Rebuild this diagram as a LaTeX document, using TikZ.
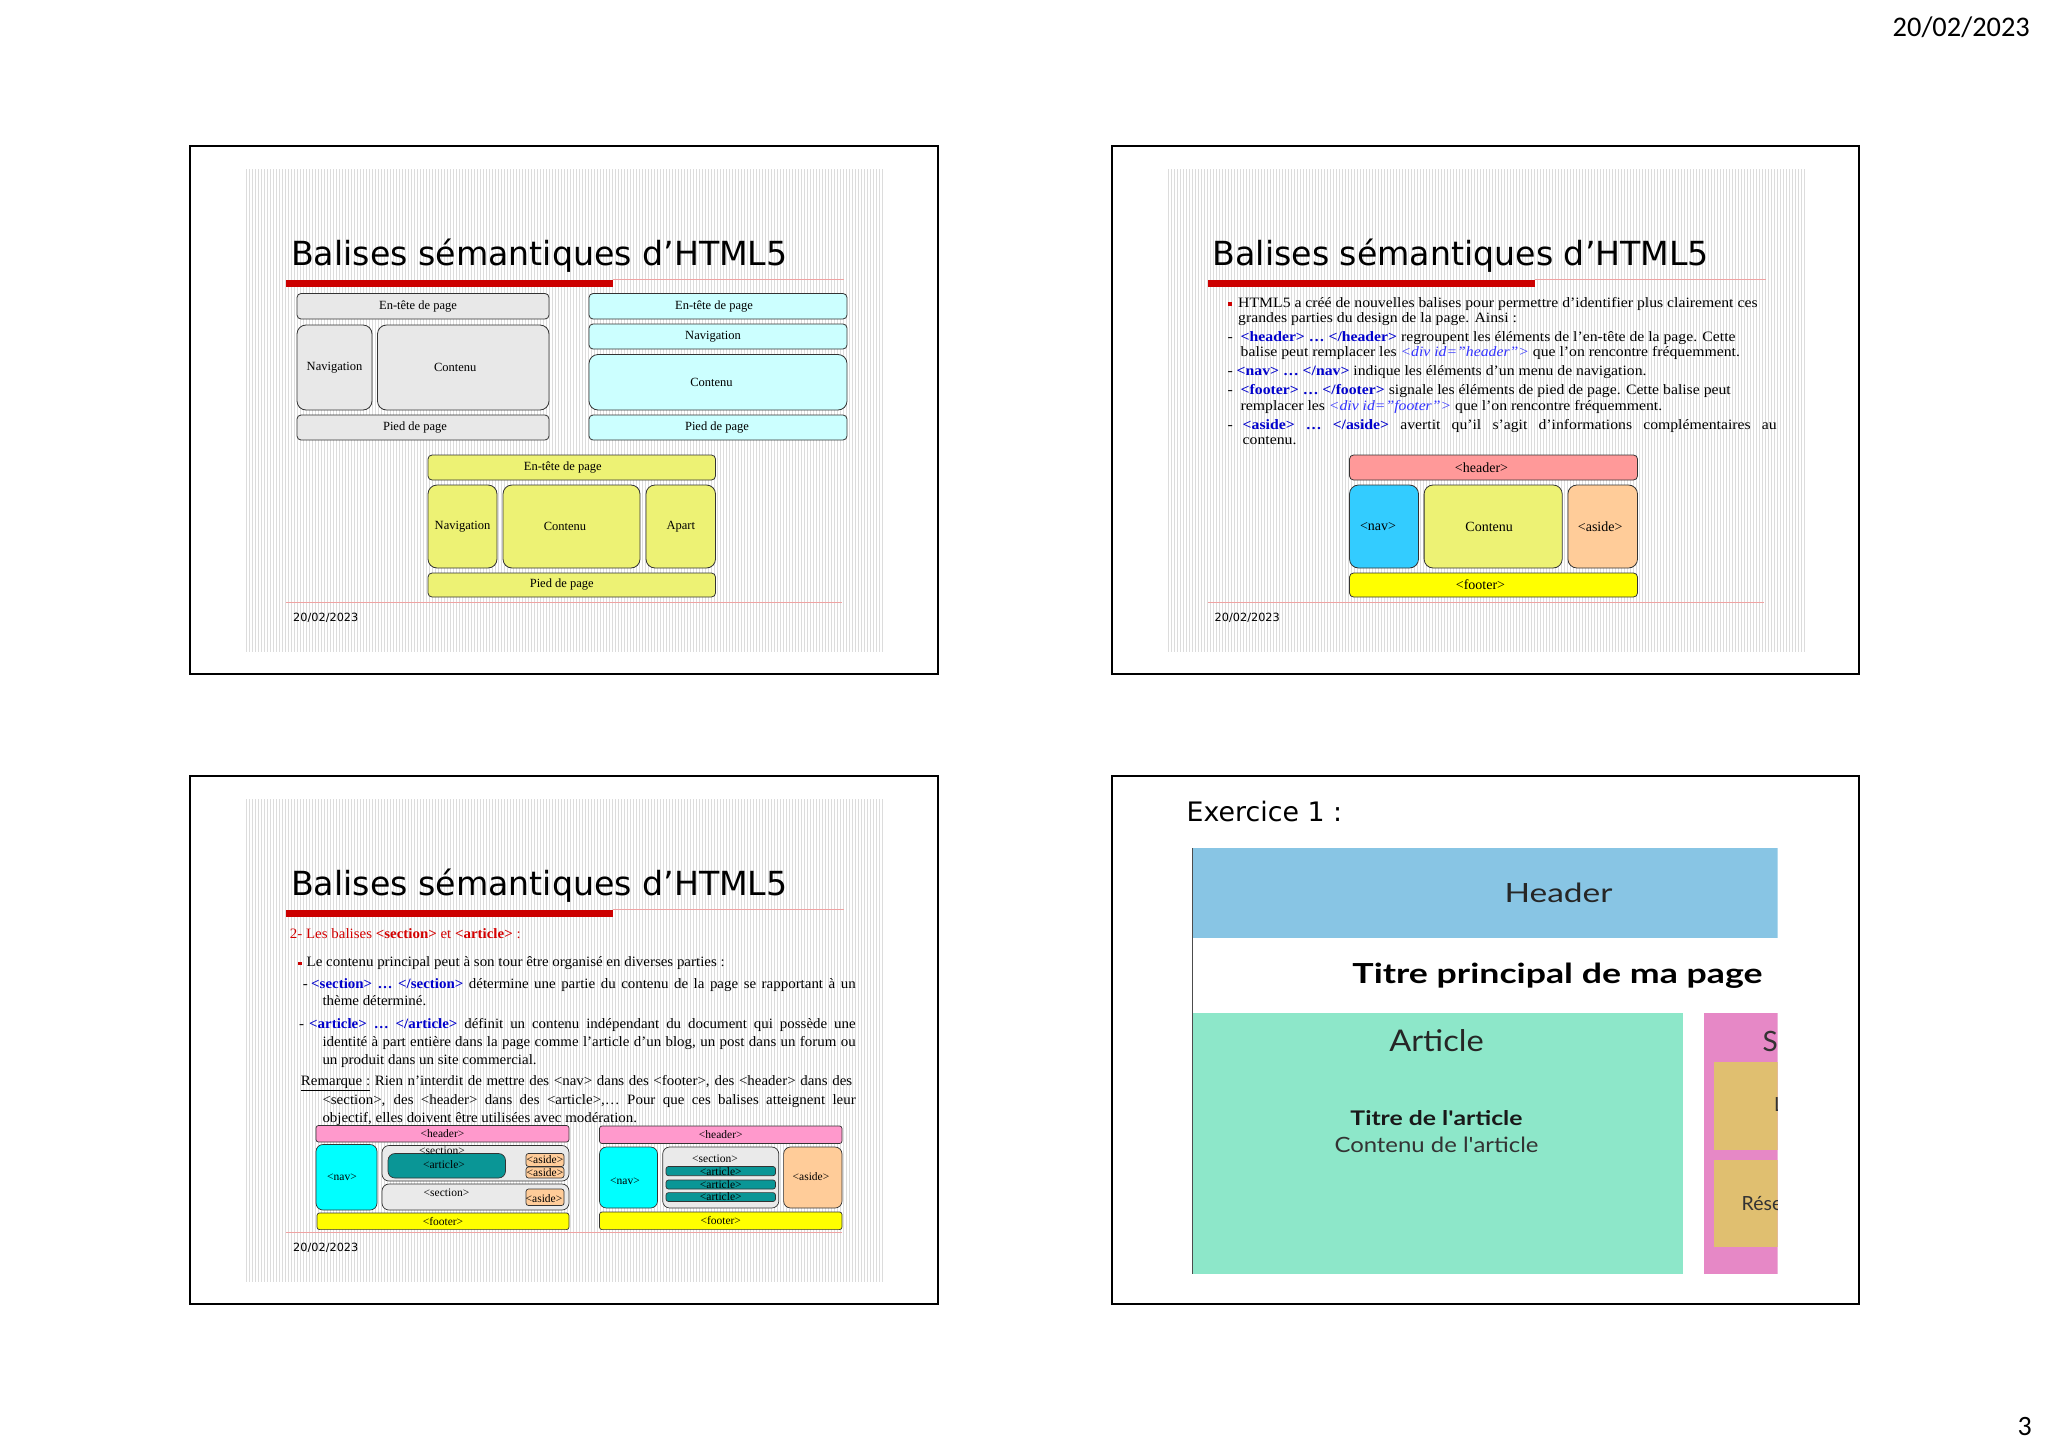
\documentclass[tikz,border=0pt]{standalone}
\usepackage{fontspec}
\setmainfont{Liberation Serif}
\newfontfamily\tahfont{DejaVu Sans}
\newfontfamily\calfont{Carlito}
\newfontfamily\latofont{Lato}
\usepackage{graphicx}
\usepackage{xcolor}
\definecolor{greyfill}{HTML}{E8E8E8}
\definecolor{cyanl}{HTML}{CCFFFF}
\definecolor{yel}{HTML}{EDF274}
\definecolor{hdrpink}{HTML}{FF9999}
\definecolor{navblue}{HTML}{33CCFF}
\definecolor{asideor}{HTML}{FFCC99}
\definecolor{footy}{HTML}{FFFF00}
\definecolor{pinkh}{HTML}{FF99CC}
\definecolor{cyanf}{HTML}{00FFFF}
\definecolor{secgrey}{HTML}{EAEAEA}
\definecolor{tealb}{HTML}{0A9696}
\definecolor{boxline}{HTML}{333333}
\definecolor{redbar}{HTML}{CC0000}
\definecolor{pinkline}{HTML}{EFA3A3}
\definecolor{tagblue}{HTML}{0000CC}
\definecolor{divblue}{HTML}{3333FF}
\definecolor{headred}{HTML}{D40000}
\definecolor{hdrblue}{HTML}{88C5E4}
\definecolor{artgreen}{HTML}{8DE7C9}
\definecolor{asidepink}{HTML}{E688C6}
\definecolor{tanbox}{HTML}{E0BF70}
\definecolor{stripecol}{HTML}{DCDCDC}
\newcounter{nd}
\def\hsc{1}
\newcommand\lineT[3]{\stepcounter{nd}\node[txt] (t\arabic{nd}) at (#1,#2) {\scalebox{\hsc}[1]{#3}};}
\newcommand\lineJ[4]{\stepcounter{nd}\pgfmathsetlengthmacro\jw{#3/\hsc}%
  \node[txt] (t\arabic{nd}) at (#1,#2) {\scalebox{\hsc}[1]{\makebox[\jw][s]{#4}}};}
\newcommand\bx[7]{\draw[#2] (#3,#4) rectangle (#5,#6); \node[lab] (#1) at ({(#3+#5)/2},{(#4+#6)/2}) {#7};}
\newcommand\bxo[8]{\draw[#2] (#3,#4) rectangle (#5,#6); \node[lab] (#1) at ({(#3+#5)/2+#7},{(#4+#6)/2}) {#8};}
\newcommand\bt[1]{\textcolor{tagblue}{\textbf{#1}}}
\newcommand\dv[1]{\textcolor{divblue}{\textit{#1}}}
\newcommand\bul{\textcolor{redbar}{\rule[1.5pt]{3.5pt}{3.5pt}}}
\newcommand\stripes{\fill[white] (56,23) rectangle (694,506);
  \foreach \i in {0,...,212}{\draw[stripecol, line width=1pt] ({56.5+3*\i},23) -- ({56.5+3*\i},506);}}
\newcommand\slidehead[1]{%
  \node[anchor=base west, inner sep=0pt, font=\tahfont\fontsize{33.2}{40}\selectfont] (title#1) at (101,119) {Balises sémantiques d’HTML5};
  \fill[redbar] (96,134) rectangle (423,141);
  \draw[pinkline, line width=1.2pt] (423,133.5) -- (654,133.5);
  \draw[pinkline, line width=1pt] (96,456) -- (652,456);
  \node[anchor=base west, inner sep=0pt, font=\tahfont\fontsize{11.3}{13}\selectfont] (date#1) at (103,475) {20/02/2023};}
\begin{document}
\begin{tikzpicture}[x=1pt,y=-1pt,
  frame/.style={draw=black, line width=2pt},
  txt/.style={anchor=base west, inner sep=0pt, font=\fontsize{14.3}{17}\selectfont},
  lab/.style={inner sep=0pt, font=\fontsize{12.5}{14}\selectfont},
  sbox/.style={draw=boxline, line width=0.8pt, rounded corners=4pt},
  tbox/.style={draw=boxline, line width=0.8pt, rounded corners=9pt},
  sbox3/.style={draw=boxline, line width=0.7pt, rounded corners=2.5pt},
  tbox3/.style={draw=boxline, line width=0.7pt, rounded corners=7pt}]
\useasboundingbox (0,0) rectangle (2048,1448);
\fill[white] (0,0) rectangle (2048,1448);
\node[anchor=base east, inner sep=0pt, font=\calfont\fontsize{28.4}{32}\selectfont] (topdate) at (2030,36.7) {20/02/2023};
\node[anchor=base east, inner sep=0pt, font=\calfont\fontsize{28}{32}\selectfont] (pnum) at (2032,1435) {3};

% ---------------- slide 1
\begin{scope}[shift={(190,146)}]
\stripes
\draw[frame] (0,0) rectangle (748,528);
\slidehead{a}
\bxo{a1}{sbox, fill=greyfill}{107}{147.5}{359}{173}{-5}{En-tête de page}
\bx{a2}{tbox, fill=greyfill}{107}{179}{182}{264}{Navigation}
\bxo{a3}{tbox, fill=greyfill}{187.5}{179}{359}{264}{-8}{Contenu}
\bxo{a4}{sbox, fill=greyfill}{107}{269}{359}{294}{-8}{Pied de page}
\bxo{a5}{sbox, fill=cyanl}{399}{147.5}{657}{173}{-4}{En-tête de page}
\bxo{a6}{sbox, fill=cyanl}{399}{178}{657}{203}{-5}{Navigation}
\bxo{a7}{tbox, fill=cyanl}{399}{208.5}{657}{264}{-6.5}{Contenu}
\bxo{a8}{sbox, fill=cyanl}{399}{269}{657}{294}{-1}{Pied de page}
\bxo{a9}{sbox, fill=yel}{238}{309}{525.5}{334}{-9}{En-tête de page}
\bx{a10}{tbox, fill=yel}{238}{339}{307}{422}{Navigation}
\bxo{a11}{tbox, fill=yel}{313}{339}{450}{422}{-6.5}{Contenu}
\bx{a12}{tbox, fill=yel}{456}{339}{525.5}{422}{Apart}
\bxo{a13}{sbox, fill=yel}{238}{427}{525.5}{451}{-10}{Pied de page}
\end{scope}

% ---------------- slide 2
\begin{scope}[shift={(1111.5,146)}, lab/.style={inner sep=0pt, font=\fontsize{14}{16}\selectfont}]
\def\hsc{1.1}
\stripes
\draw[frame] (0,0) rectangle (747.5,528);
\slidehead{b}
\lineT{116}{161}{\bul}
\lineT{126.5}{161}{HTML5 a créé de nouvelles balises pour permettre d’identifier plus clairement ces}
\lineT{126.5}{176}{grandes parties du design de la page. Ainsi :}
\lineT{116}{195.6}{-}
\lineT{129}{195.6}{\bt{<header> … </header>} regroupent les éléments de l’en-tête de la page. Cette}
\lineT{129}{210.5}{balise peut remplacer les \dv{<div id="header">} que l’on rencontre fréquemment.}
\lineT{116}{229.5}{-}
\lineT{125}{229.5}{\bt{<nav> … </nav>} indique les éléments d’un menu de navigation.}
\lineT{116}{248.8}{-}
\lineT{129}{248.8}{\bt{<footer> … </footer>} signale les éléments de pied de page. Cette balise peut}
\lineT{129}{264}{remplacer les \dv{<div id="footer">} que l’on rencontre fréquemment.}
\lineT{116}{283}{-}
\lineJ{131}{283}{534}{\bt{<aside>} \bt{…} \bt{</aside>} avertit qu’il s’agit d’informations complémentaires au}
\lineT{131}{298.7}{contenu.}
\bxo{b1}{sbox, fill=hdrpink}{238}{309}{526}{334}{-12}{<header>}
\bxo{b2}{tbox, fill=navblue}{238}{339}{307}{422}{-6}{<nav>}
\bxo{b3}{tbox, fill=yel}{312.6}{339}{450.7}{422}{-4}{Contenu}
\bxo{b4}{tbox, fill=asideor}{456.4}{339}{526}{422}{-2.5}{<aside>}
\bxo{b5}{sbox, fill=footy}{238}{427}{526}{451}{-13}{<footer>}
\end{scope}

% ---------------- slide 3
\begin{scope}[shift={(190,776)}, lab/.style={inner sep=0pt, font=\fontsize{11.5}{13}\selectfont}]
\def\hsc{1.045}
\stripes
\draw[frame] (0,0) rectangle (748,528);
\slidehead{c}
\lineT{99.7}{162.7}{\textcolor{headred}{2- Les balises \textbf{<section>} et \textbf{<article>} :}}
\lineT{108}{190.5}{\bul}
\lineT{116.5}{190.5}{Le contenu principal peut à son tour être organisé en diverses parties :}
\lineT{112.6}{212}{-}
\lineJ{121}{212}{544.5}{\bt{<section> … </section>} détermine une partie du contenu de la page se rapportant à un}
\lineT{132.3}{229.5}{thème déterminé.}
\lineT{109}{252}{-}
\lineJ{119}{252}{546.5}{\bt{<article> … </article>} définit un contenu indépendant du document qui possède une}
\lineJ{132.3}{270}{533.2}{identité à part entière dans la page comme l’article d’un blog, un post dans un forum ou}
\lineT{132.3}{288}{un produit dans un site commercial.}
\lineJ{110.7}{309.5}{551.3}{\underline{Remarque :} Rien n’interdit de mettre des <nav> dans des <footer>, des <header> dans des}
\lineJ{132.3}{328}{533.2}{<section>, des <header> dans des <article>,… Pour que ces balises atteignent leur}
\lineT{132.3}{346}{objectif, elles doivent être utilisées avec modération.}
% left diagram
\bx{c1}{sbox3, fill=pinkh}{126}{349.5}{379}{366}{<header>}
\bx{c2}{tbox3, fill=cyanf}{126}{368.5}{187}{434}{}
\node[lab] (c2l) at (152,401.5) {<nav>};
\bx{c3}{tbox3, fill=secgrey}{192}{369.5}{379}{405}{}
\bx{c4}{tbox3, fill=tealb}{198}{377.5}{315.5}{402}{}
\node[lab] (c3l) at (252,374.5) {<section>};
\node[lab] (c4l) at (254,388.5) {<article>};
\bx{c5}{sbox3, fill=asideor}{336}{377.5}{374}{390.5}{<aside>}
\bx{c6}{sbox3, fill=asideor}{336}{391}{374}{402}{<aside>}
\bx{c7}{tbox3, fill=secgrey}{192}{408}{379}{434}{}
\node[lab] (c7l) at (256.5,416.5) {<section>};
\bx{c8}{sbox3, fill=asideor}{336}{413}{374}{429.5}{}
\node[lab] (c8l) at (354,423) {<aside>};
\bx{c9}{sbox3, fill=footy}{127}{437}{379}{453.6}{<footer>}
% right diagram
\bx{d1}{sbox3, fill=pinkh}{409.5}{350}{652}{367.5}{<header>}
\bx{d2}{tbox3, fill=cyanf}{409.5}{371}{467.5}{432}{}
\node[lab] (d2l) at (435,405) {<nav>};
\bx{d3}{tbox3, fill=secgrey}{472.7}{371}{588.8}{432}{}
\node[lab] (d3l) at (525,383) {<section>};
\bx{d4}{sbox3, fill=tealb}{476}{390.5}{585.5}{399.7}{<article>}
\bx{d5}{sbox3, fill=tealb}{476}{404}{585.5}{413}{<article>}
\bx{d6}{sbox3, fill=tealb}{476}{416.6}{585.5}{425.5}{<article>}
\bx{d7}{tbox3, fill=asideor}{593.6}{371}{652}{432}{}
\node[lab] (d7l) at (621,401) {<aside>};
\bx{d8}{sbox3, fill=footy}{409.5}{436}{652}{453.6}{<footer>}
\end{scope}

% ---------------- slide 4
\begin{scope}[shift={(1111.5,776)}]
\draw[frame] (0,0) rectangle (747.5,528);
\node[anchor=base west, inner sep=0pt, font=\tahfont\fontsize{26.8}{30}\selectfont] (ex) at (75,45) {Exercice 1 :};
\begin{scope}
\clip (81,72) rectangle (666,498);
\fill[hdrblue] (81,72) rectangle (666,162);
\fill[artgreen] (81,237) rectangle (571,498);
\fill[asidepink] (592,237) rectangle (666,498);
\fill[tanbox] (602,286) rectangle (666,374);
\fill[tanbox] (602,384) rectangle (666,471);
\node[anchor=base west, inner sep=0pt, text=black!80, font=\latofont\fontsize{28}{30}\selectfont] (sid) at (651,275.5) {Sidebar};
\node[anchor=base west, inner sep=0pt, text=black!80, font=\latofont\fontsize{19.5}{22}\selectfont] (res) at (630,434) {Réseaux};
\node[anchor=base west, inner sep=0pt, text=black!80, font=\latofont\fontsize{19.5}{22}\selectfont] (lie) at (662.5,335) {Liens};
\end{scope}
\draw[black!70, line width=1pt] (81,72) -- (81,498);
\node[anchor=base, inner sep=0pt, text=black!85] (hd) at (447,126) {\resizebox{108pt}{19.5pt}{\latofont Header}};
\node[anchor=base, inner sep=0pt, text=black] (tp) at (446,207.7) {\resizebox{410pt}{20.5pt}{\latofont\bfseries Titre principal de ma page}};
\node[anchor=base, inner sep=0pt, text=black!85] (ar) at (325,275.5) {\resizebox{94.5pt}{22pt}{\latofont Article}};
\node[anchor=base, inner sep=0pt, text=black!90] (ta) at (325,349) {\resizebox{172pt}{15pt}{\latofont\bfseries Titre de l\textquotesingle article}};
\node[anchor=base, inner sep=0pt, text=black!80] (ca) at (325,376) {\resizebox{204pt}{15.5pt}{\latofont Contenu de l\textquotesingle article}};
\end{scope}
\end{tikzpicture}
\end{document}
